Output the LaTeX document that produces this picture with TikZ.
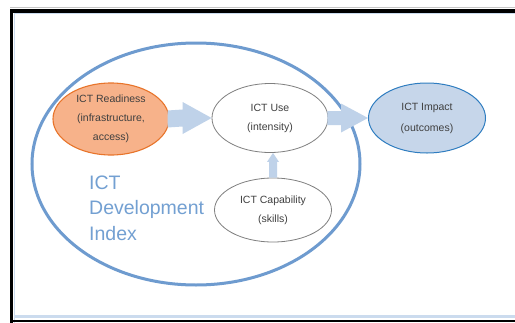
\documentclass[tikz,border=0pt]{standalone}
\usepackage{fontspec}
\setmainfont{Liberation Sans}
\usetikzlibrary{shapes.geometric,calc}
\definecolor{idxblue}{HTML}{6E9BCF}
\definecolor{idxtext}{HTML}{73A0D2}
\definecolor{rdorange}{HTML}{E8742A}
\definecolor{rdfill}{HTML}{F7B28A}
\definecolor{usegray}{HTML}{7F7F7F}
\definecolor{impborder}{HTML}{2F7DC0}
\definecolor{impfill}{HTML}{C6D6EA}
\definecolor{arrowblue}{HTML}{BFD2E9}
\definecolor{lblgray}{HTML}{3F3F3F}
\definecolor{framelight}{HTML}{CBDBEE}
\tikzset{
  lbl/.style={font=\fontsize{10.5}{19}\selectfont, text=lblgray, align=center},
  oval/.style={ellipse, inner sep=0pt},
  blockarrow/.style={fill=arrowblue, draw=none},
}
\begin{document}
\begin{tikzpicture}[x=1pt,y=-1pt]
\clip (0,0) rectangle (515,322);
\fill[white] (0,0) rectangle (515,322);
% frame
\draw[gray!45, line width=1] (10,7.3) -- (520,7.3);
\draw[framelight, line width=1] (14.2,330) -- (14.2,13.9) -- (520,13.9);
\draw[framelight, line width=3.5] (14,316.5) -- (520,316.5);
\draw[black, line width=3.5] (11.5,330) -- (11.5,10.8) -- (520,10.8);
\draw[black, line width=2.8] (11.5,321) -- (520,321);
% big ellipse
\node[oval, draw=idxblue, line width=3, minimum width=328pt, minimum height=242pt] (idx) at (196,164) {};
% inner ellipses
\node[oval, draw=rdorange, fill=rdfill, line width=1.1, minimum width=116pt, minimum height=72pt, lbl] (rd) at (111,119) {ICT Readiness\\(infrastructure,\\access)};
\node[oval, draw=usegray, fill=white, line width=0.8, minimum width=116pt, minimum height=69pt, lbl] (use) at (270,118) {ICT Use\\(intensity)};
\node[oval, draw=usegray, fill=white, line width=0.8, minimum width=117pt, minimum height=64pt, lbl] (cap) at (273,210) {ICT Capability\\(skills)};
\node[oval, draw=impborder, fill=impfill, line width=1, minimum width=117pt, minimum height=70pt, lbl, font=\fontsize{10.5}{21}\selectfont] (imp) at (427,118) {ICT Impact\\(outcomes)};
% big label
\node[font=\fontsize{19.5}{25.5}\selectfont, text=idxtext, align=left, anchor=west, inner sep=0pt] (idxlbl) at (89,208) {ICT\\Development\\Index};
% block arrows
\fill[blockarrow] ($(rd.east)+(-2,-8.5)$) -- ($(use.west)+(-29,-8.5)$) -- ($(use.west)+(-29,-16)$) -- (use.west)
  -- ($(use.west)+(-29,16)$) -- ($(use.west)+(-29,8.5)$) -- ($(rd.east)+(-2,8.5)$) -- cycle;
\fill[blockarrow] ($(use.east)+(-1,-7)$) -- ($(imp.west)+(-27,-7)$) -- ($(imp.west)+(-27,-14.5)$) -- (imp.west)
  -- ($(imp.west)+(-27,14.5)$) -- ($(imp.west)+(-27,7)$) -- ($(use.east)+(-1,7)$) -- cycle;
\coordinate (usebot) at (cap.north |- use.south);
\fill[blockarrow] ($(cap.north)+(-4,0)$) -- ($(usebot)+(-4,9)$) -- ($(usebot)+(-6,9)$) -- (usebot)
  -- ($(usebot)+(6,9)$) -- ($(usebot)+(4,9)$) -- ($(cap.north)+(4,0)$) -- cycle;
\end{tikzpicture}
\end{document}
